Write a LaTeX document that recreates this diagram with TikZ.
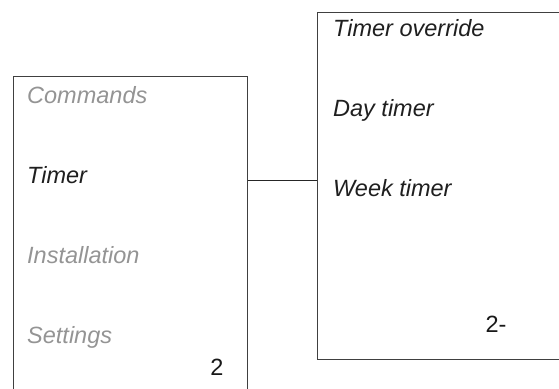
\documentclass[tikz,border=0pt]{standalone}
\usepackage{fontspec}
\setmainfont{Liberation Sans}
\usetikzlibrary{positioning}
\begin{document}
\begin{tikzpicture}[x=1pt, y=-1pt,
            item/.style={anchor=base west, inner sep=0pt, font=\fontsize{23.5}{28}\selectfont\itshape, text=black!88},
            dim/.style={item, text=black!42},
            num/.style={anchor=base, inner sep=0pt, font=\fontsize{23.5}{28}\selectfont, text=black!90},
            frame/.style={draw=black!75, line width=1.2pt, anchor=north west, inner sep=0pt},
            ed/.style={draw=black!85, line width=1pt}]
            \useasboundingbox (0,0) rectangle (559,388);
            \clip (0,0) rectangle (559,388);
            \node[frame, minimum width=234, minimum height=340] (menu) at (13,76) {};
            \node[frame, minimum width=260, minimum height=347] (sub) at (317,12) {};
            \node[dim]  (cmd)   at (27,103) {Commands};
            \node[item] (timer) at (27,183) {Timer};
            \node[dim]  (inst)  at (27,263) {Installation};
            \node[dim]  (set)   at (27,343) {Settings};
            \node[num]  (pg)    at (217,375) {2};
            \node[item] (ovr)   at (333,36)  {Timer override};
            \node[item] (day)   at (333,116) {Day timer};
            \node[item] (week)  at (333,196) {Week timer};
            \node[num]  (subpg) at (496,332) {2-};
            \draw[ed] (timer.mid -| menu.east) -- (timer.mid -| sub.west);
        \end{tikzpicture}
\end{document}
